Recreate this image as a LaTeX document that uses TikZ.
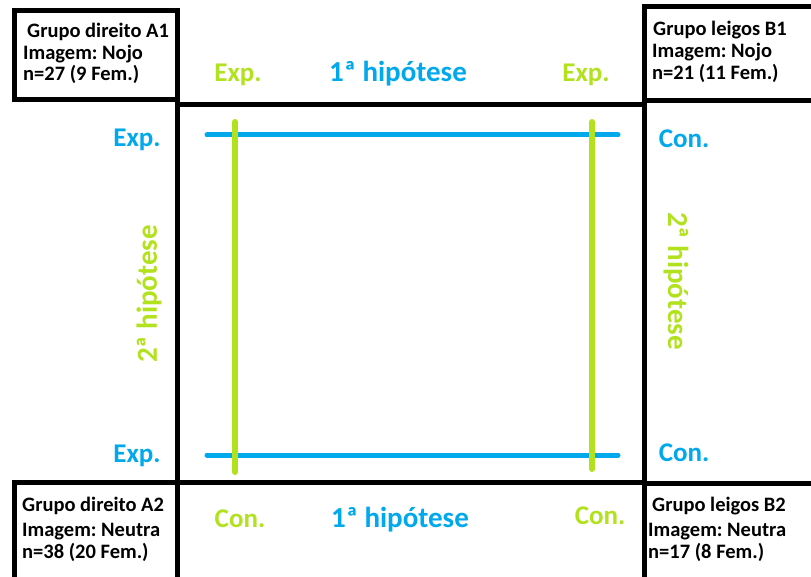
\documentclass[tikz,border=0pt]{standalone}
\usepackage{fontspec}
\setmainfont{Carlito}
\frenchspacing
\definecolor{hypblue}{RGB}{0,168,236}
\definecolor{hyplime}{RGB}{178,226,30}
\tikzset{
  frame/.style={line width=5pt, draw=black},
  bluebar/.style={line width=5pt, draw=hypblue, line cap=round},
  limebar/.style={line width=6pt, draw=hyplime, line cap=round},
  boxtext/.style={anchor=base west, inner sep=0pt, font=\bfseries\fontsize{20.5}{23}\selectfont},
  bigblue/.style={anchor=base, inner sep=0pt, text=hypblue, font=\bfseries\fontsize{27}{30}\selectfont},
  biglime/.style={anchor=base, inner sep=0pt, text=hyplime, font=\bfseries\fontsize{27}{30}\selectfont},
  hyp/.style={font=\bfseries\fontsize{29}{32}\selectfont},
}
\begin{document}
\begin{tikzpicture}[x=1pt, y=-1pt]
\useasboundingbox (0,0) rectangle (811,577);
\fill[white] (0,0) rectangle (811,577);

% corner group boxes
\draw[frame] (14.5,10.5) rectangle (177.5,99.5);
\draw[frame] (816,6.5) -- (644.5,6.5) -- (644.5,100.5) -- (816,100.5);
\draw[frame] (14.5,582) -- (14.5,482) -- (177.5,482) -- (177.5,582);
\draw[frame] (816,483) -- (644.5,483) -- (644.5,582);

% central frame
\draw[frame] (177.5,99.5) -- (177.5,482);
\draw[frame] (644.5,100.5) -- (644.5,483);
\draw[frame] (175,105) -- (647,105);
\draw[frame] (175,482) -- (647,482);

% hypothesis bars
\coordinate (bt1) at (207,135);  \coordinate (bt2) at (618,135);
\coordinate (bb1) at (207,455);  \coordinate (bb2) at (618,455);
\coordinate (gl1) at (235,122);  \coordinate (gl2) at (235,472);
\coordinate (gr1) at (592,122);  \coordinate (gr2) at (592,469);
\draw[bluebar] (bt1) -- (bt2);
\draw[bluebar] (bb1) -- (bb2);
\draw[limebar] (gl1) -- (gl2);
\draw[limebar] (gr1) -- (gr2);

% group descriptions
\node[boxtext] (a1a) at (27,38) {Grupo direito A1};
\node[boxtext] (a1b) at (23,60) {Imagem: Nojo};
\node[boxtext] (a1c) at (23,81) {n=27 (9 Fem.)};
\node[boxtext] (b1a) at (653,36) {Grupo leigos B1};
\node[boxtext] (b1b) at (652,58) {Imagem: Nojo};
\node[boxtext] (b1c) at (652,80) {n=21 (11 Fem.)};
\node[boxtext] (a2a) at (22,511) {Grupo direito A2};
\node[boxtext] (a2b) at (22,536) {Imagem: Neutra};
\node[boxtext] (a2c) at (22,558) {n=38 (20 Fem.)};
\node[boxtext] (b2a) at (652,511) {Grupo leigos B2};
\node[boxtext] (b2b) at (648,536) {Imagem: Neutra};
\node[boxtext] (b2c) at (648,558) {n=17 (8 Fem.)};

% labels of the first hypothesis
\node[biglime] (tl) at (238,82) {Exp.};
\node[bigblue, hyp] (th) at (398,82) {1ª hipótese};
\node[biglime] (tr) at (586,82) {Exp.};
\node[biglime] (bl) at (240,527) {Con.};
\node[bigblue, hyp] (bh) at (400,527) {1ª hipótese};
\node[biglime] (br) at (600,524) {Con.};

% labels at the ends of the bars
\node[bigblue] (le1) at (137,147) {Exp.};
\node[bigblue] (ri1) at (684,148) {Con.};
\node[bigblue] (le2) at (137,462) {Exp.};
\node[bigblue] (ri2) at (684,461) {Con.};

% labels of the second hypothesis
\node[biglime, hyp, anchor=center, rotate=90] (lh) at (149,294) {2ª hipótese};
\node[biglime, hyp, anchor=center, rotate=-90] (rh) at (676,281) {2ª hipótese};
\end{tikzpicture}
\end{document}
